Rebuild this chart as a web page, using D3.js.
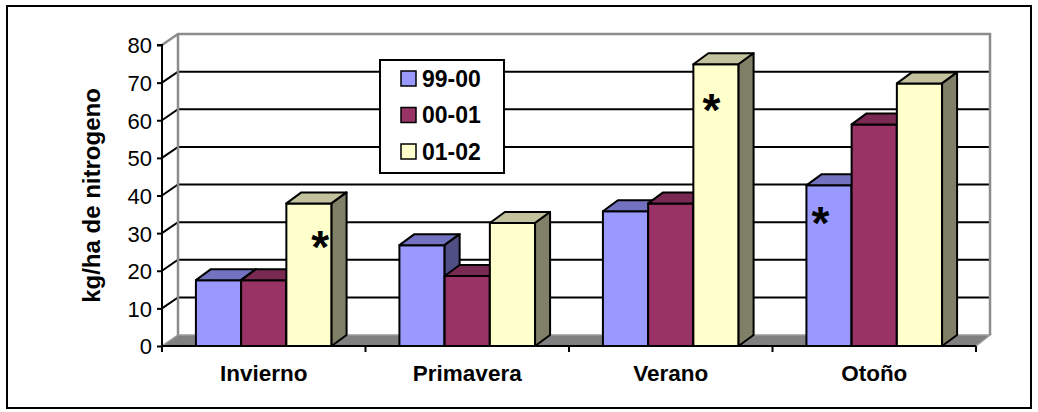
<!DOCTYPE html>
<html>
<head>
<meta charset="utf-8">
<script src="https://cdn.jsdelivr.net/npm/d3@7"></script>
<style>
  html, body { margin: 0; padding: 0; background: #fff; }
  svg { display: block; font-family: "Liberation Sans", Arial, sans-serif; }
</style>
</head>
<body>
<svg id="chart" width="1038" height="412"></svg>
<script>
// Seasonal nitrogen values (kg/ha) per campaign
const categories = ["Invierno", "Primavera", "Verano", "Otoño"];
const seriesNames = ["99-00", "00-01", "01-02"];
const values9900 = [17.5, 26.8, 35.8, 42.7];
const values0001 = [17.5, 18.6, 37.9, 58.9];
const values0102 = [37.9, 32.7, 74.9, 69.8];
const yTicks = [0, 10, 20, 30, 40, 50, 60, 70, 80];
const yTitle = "kg/ha de nitrogeno";
// significance marks: which bar carries an asterisk
const starCategories = ["Invierno", "Verano", "Otoño"];
const starSeries = ["01-02", "01-02", "99-00"];

const seriesValues = [values9900, values0001, values0102];
const FONT = "'Liberation Sans', Arial, sans-serif";

// face colours: front, top, side
const palette = {
  "99-00": { front: "#9999FF", top: "#7272C0", side: "#4F4F86" },
  "00-01": { front: "#993366", top: "#7A2952", side: "#4F1A35" },
  "01-02": { front: "#FFFFCC", top: "#C2C29E", side: "#808068" }
};

const svg = d3.select("#chart");

// plot geometry
const plotLeft = 162, plotRight = 976, plotTop = 45, plotBottom = 346;
const wallDx = 16, wallDy = -11;   // depth of side wall / floor
const barDx = 15, barDy = -11;     // depth of each column

const x = d3.scaleBand().domain(categories).range([plotLeft, plotRight]).padding(0);
const xs = d3.scaleBand().domain(seriesNames).range([0, x.bandwidth()])
  .paddingInner(0).paddingOuter(0.75);
const y = d3.scaleLinear().domain([0, 80]).range([plotBottom, plotTop]);

// outer frame
svg.append("rect")
  .attr("x", 7).attr("y", 6).attr("width", 1024).attr("height", 402)
  .attr("fill", "#fff").attr("stroke", "#000").attr("stroke-width", 2);

// floor
svg.append("path")
  .attr("d", `M${plotLeft},${plotBottom} L${plotRight},${plotBottom} L${plotRight + wallDx - 2},${plotBottom + wallDy} L${plotLeft + wallDx},${plotBottom + wallDy} Z`)
  .attr("fill", "#808080").attr("stroke", "#9a9a9a").attr("stroke-width", 1.5);

// gridlines across the side wall and back wall
const gridGroup = svg.append("g");
yTicks.filter(v => v > 0 && v < 80).forEach(v => {
  const yy = y(v);
  gridGroup.append("path")
    .attr("d", `M${plotLeft},${yy} L${plotLeft + wallDx},${yy + wallDy} L${plotRight + wallDx - 2},${yy + wallDy}`)
    .attr("fill", "none").attr("stroke", "#000").attr("stroke-width", 2);
});

// wall outlines
const backRight = plotRight + wallDx - 2;
svg.append("path")
  .attr("d", `M${plotLeft},${y(80)} L${plotLeft + wallDx},${y(80) + wallDy} L${backRight},${y(80) + wallDy} L${backRight},${plotBottom + wallDy} M${plotLeft + wallDx},${y(80) + wallDy} L${plotLeft + wallDx},${plotBottom + wallDy}`)
  .attr("fill", "none").attr("stroke", "#8c8c8c").attr("stroke-width", 2.5);

// columns
const barsGroup = svg.append("g");
categories.forEach((cat, i) => {
  seriesNames.forEach((s, j) => {
    const v = seriesValues[j][i];
    const bx = x(cat) + xs(s);
    const w = xs.bandwidth();
    const yt = y(v);
    const col = palette[s];
    const g = barsGroup.append("g").attr("stroke", "#000").attr("stroke-width", 2).attr("stroke-linejoin", "round");
    g.append("rect").attr("x", bx).attr("y", yt).attr("width", w).attr("height", plotBottom - yt).attr("fill", col.front);
    g.append("path")
      .attr("d", `M${bx},${yt} L${bx + barDx},${yt + barDy} L${bx + w + barDx},${yt + barDy} L${bx + w},${yt} Z`)
      .attr("fill", col.top);
    g.append("path")
      .attr("d", `M${bx + w},${yt} L${bx + w + barDx},${yt + barDy} L${bx + w + barDx},${plotBottom + barDy} L${bx + w},${plotBottom} Z`)
      .attr("fill", col.side);
  });
});

// asterisks inside the marked columns
const starLayout = [ { fx: 0.75, dy: 33 }, { fx: 0.40, dy: 36 }, { fx: 0.31, dy: 27 } ];
starCategories.forEach((cat, k) => {
  const s = starSeries[k];
  const i = categories.indexOf(cat);
  const j = seriesNames.indexOf(s);
  const v = seriesValues[j][i];
  const cx = x(cat) + xs(s) + xs.bandwidth() * starLayout[k].fx;
  const cy = y(v) + starLayout[k].dy;
  const fs = 46;
  svg.append("text")
    .attr("x", cx).attr("y", cy + fs * 0.57)
    .attr("text-anchor", "middle")
    .attr("font-family", FONT)
    .attr("font-size", fs).attr("font-weight", "bold")
    .attr("fill", "#000")
    .text("*");
});

// y axis
const yAxis = d3.axisLeft(y).tickValues(yTicks).tickSize(5).tickPadding(5).tickFormat(d3.format("d"));
const yAxisG = svg.append("g").attr("transform", `translate(${plotLeft},0)`).call(yAxis);
yAxisG.attr("font-family", FONT);
yAxisG.select(".domain").attr("stroke", "#000").attr("stroke-width", 2)
  .attr("d", `M-5,${plotTop}H0V${plotBottom + 6}`);
yAxisG.selectAll(".tick line").attr("stroke", "#000").attr("stroke-width", 2);
yAxisG.selectAll(".tick text")
  .attr("font-size", 22)
  .attr("fill", "#000").attr("dy", "0.36em");

// x axis
const xAxis = d3.axisBottom(x).tickSize(0).tickPadding(16);
const xAxisG = svg.append("g").attr("transform", `translate(0,${plotBottom})`).call(xAxis);
xAxisG.attr("font-family", FONT);
xAxisG.select(".domain").attr("stroke", "#000").attr("stroke-width", 2)
  .attr("d", `M${plotLeft},0H${plotRight}`);
xAxisG.selectAll(".tick text")
  .attr("font-size", 22.5).attr("font-weight", "bold")
  .attr("fill", "#000")
  .attr("dy", "0.85em");
// category boundary ticks
const bounds = categories.map(c => x(c)).concat([plotRight]);
xAxisG.selectAll("line.bound").data(bounds).enter().append("line")
  .attr("class", "bound")
  .attr("x1", d => d).attr("x2", d => d).attr("y1", 0).attr("y2", 6)
  .attr("stroke", "#000").attr("stroke-width", 2);

// y axis title
svg.append("text")
  .attr("transform", `translate(100,${(plotTop + plotBottom) / 2}) rotate(-90)`)
  .attr("text-anchor", "middle")
  .attr("font-family", FONT)
  .attr("font-size", 24).attr("font-weight", "bold").attr("fill", "#000")
  .text(yTitle);

// legend
const legend = svg.append("g").attr("transform", "translate(380,60)");
legend.append("rect").attr("width", 124).attr("height", 113)
  .attr("fill", "#fff").attr("stroke", "#000").attr("stroke-width", 2);
seriesNames.forEach((s, j) => {
  const row = legend.append("g").attr("transform", `translate(0,${11 + j * 36.5})`);
  row.append("rect").attr("x", 21).attr("y", 0).attr("width", 15).attr("height", 15)
    .attr("fill", palette[s].front).attr("stroke", "#000").attr("stroke-width", 1.5);
  row.append("text").attr("x", 42).attr("y", 15.5)
    .attr("font-family", FONT)
    .attr("font-size", 23).attr("font-weight", "bold").attr("fill", "#000")
    .text(s);
});
</script>
</body>
</html>
